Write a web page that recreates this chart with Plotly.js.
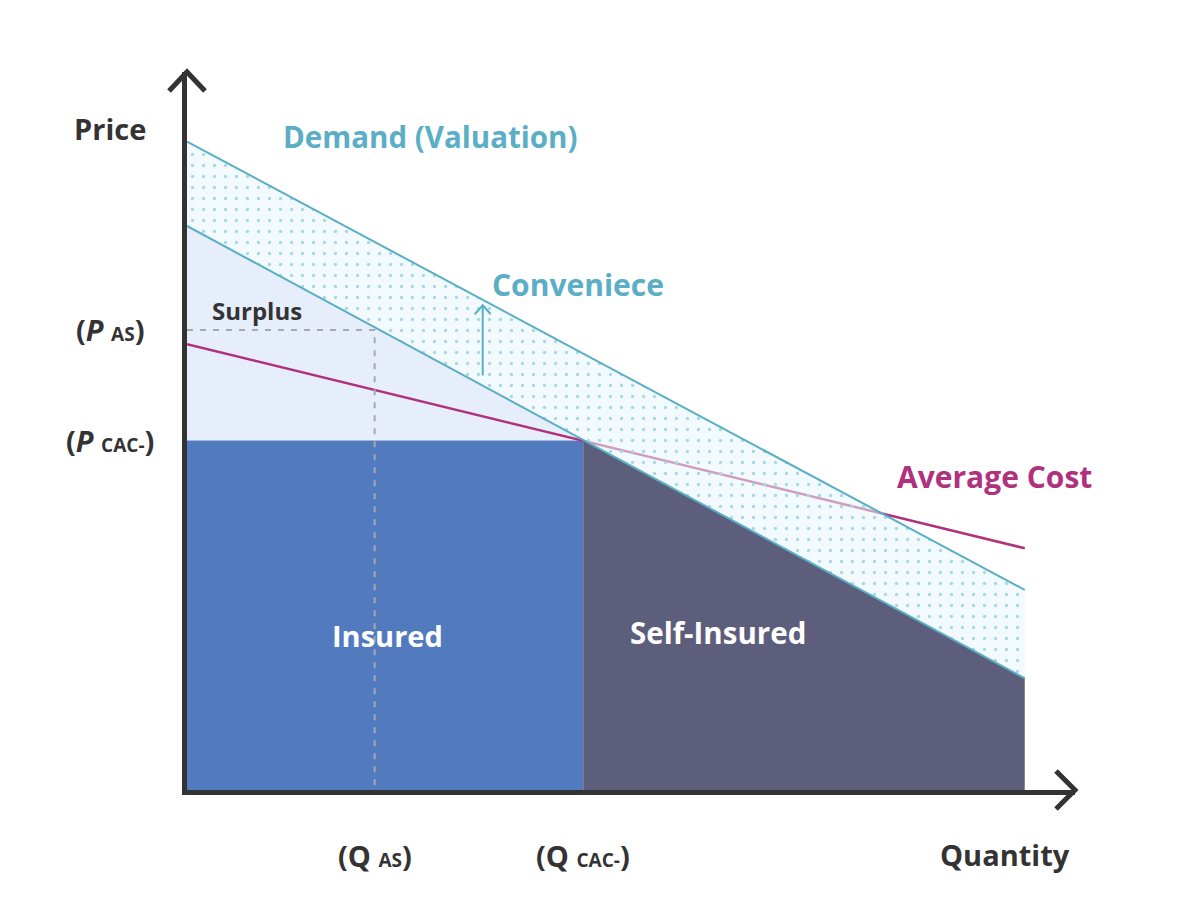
<!DOCTYPE html>
<html>
<head>
<meta charset="utf-8">
<script src="https://cdn.plot.ly/plotly-3.0.1.min.js"></script>
<style>html,body{margin:0;padding:0;background:#fff;}#chart{width:1200px;height:920px;}</style>
</head>
<body>
<div id="chart"></div>
<script>
// ---- data (conceptual units) ----
const quantity = [0, 10];
const demandValuation = [9.98, 3.08];   // upper demand (valuation incl. convenience)
const demandBase = [8.68, 1.72];        // lower demand
const averageCost = [6.86, 3.72];
const qAS = 2.24, pAS = 7.08;
const qCAC = 4.73, pCAC = 5.38;
const convArrowQ = 3.53, convArrowFrom = 6.38, convArrowTo = 7.46;
const xTickVals = [qAS, qCAC];
const xTickLabels = ["(Q <span style='font-size:19px'>AS</span>)", "(Q <span style='font-size:19px'>CAC-</span>)"];
const yTickVals = [pAS, pCAC];
const yTickLabels = ["(<i>P</i> <span style='font-size:19px'>AS</span>)", "(<i>P</i> <span style='font-size:19px'>CAC-</span>)"];

const DARK = '#333333', TEAL = '#5aaec6', MAGENTA = '#b0317d';
const FONT = '"Open Sans", Lato, sans-serif';

const traces = [
  { // surplus
    x: [quantity[0], qCAC, quantity[0]], y: [demandBase[0], pCAC, pCAC],
    fill: 'toself', fillcolor: '#e6eefb', mode: 'none', hoverinfo: 'skip'
  },
  { // insured
    x: [quantity[0], qCAC, qCAC, quantity[0]], y: [0, 0, pCAC, pCAC],
    fill: 'toself', fillcolor: '#527bbf', mode: 'none', hoverinfo: 'skip'
  },
  { // self-insured
    x: [qCAC, quantity[1], quantity[1], qCAC], y: [pCAC, demandBase[1], 0, 0],
    fill: 'toself', fillcolor: '#5d5e7b', mode: 'none', hoverinfo: 'skip'
  },
  { // average cost
    x: quantity, y: averageCost, mode: 'lines', line: {color: MAGENTA, width: 2.5}, hoverinfo: 'skip'
  },
  { // band lower bound
    x: quantity, y: demandBase, mode: 'lines', line: {color: 'rgba(0,0,0,0)', width: 0}, hoverinfo: 'skip'
  },
  { // band (convenience)
    x: quantity, y: demandValuation, mode: 'lines', line: {color: 'rgba(0,0,0,0)', width: 0}, fill: 'tonexty',
    fillcolor: 'rgba(232,246,250,0.55)',
    fillpattern: {shape: '.', fgcolor: '#a6d9e3', bgcolor: 'rgba(232,246,250,0.55)', size: 11, solidity: 0.07},
    hoverinfo: 'skip'
  },
  { x: quantity, y: demandBase, mode: 'lines', line: {color: TEAL, width: 2}, hoverinfo: 'skip' },
  { x: quantity, y: demandValuation, mode: 'lines', line: {color: TEAL, width: 2}, hoverinfo: 'skip' },
  { // dashed guide lines
    x: [quantity[0], qAS, qAS], y: [pAS, pAS, 0], mode: 'lines',
    line: {color: '#a8a8ad', width: 2, dash: '6px,7px'}, hoverinfo: 'skip'
  },
  { // convenience arrow shaft
    x: [convArrowQ, convArrowQ], y: [convArrowFrom, convArrowTo], mode: 'lines',
    line: {color: TEAL, width: 2}, hoverinfo: 'skip'
  }
];

function ann(x, y, text, size, color, opts) {
  return Object.assign({x: x, y: y, xref: 'x', yref: 'y', text: text, showarrow: false,
    font: {family: FONT, size: size, color: color, weight: 700}}, opts || {});
}

const annotations = [
  ann(0, 10.18, 'Price', 29, DARK, {xshift: -77}),
  ann(2.9, 10.06, 'Demand (Valuation)', 29.5, TEAL),
  ann(3.62, 7.78, 'Conveniece', 30, TEAL, {xanchor: 'left'}),
  ann(0.27, 7.38, 'Surplus', 24, DARK, {xanchor: 'left'}),
  ann(9.64, 4.82, 'Average Cost', 30, MAGENTA),
  ann(2.39, 2.38, 'Insured', 29, '#ffffff'),
  ann(6.34, 2.43, 'Self-Insured', 29.5, '#ffffff'),
  ann(9.77, 0, 'Quantity', 29, DARK, {yshift: -64})
];
xTickVals.forEach((v, i) => annotations.push(ann(v, 0, xTickLabels[i], 29, DARK, {yshift: -65})));
yTickVals.forEach((v, i) => annotations.push(ann(0, v, yTickLabels[i], 29, DARK, {xshift: -77})));

const shapes = [
  { // y-axis arrow head
    type: 'path', xref: 'paper', yref: 'paper', xsizemode: 'pixel', ysizemode: 'pixel',
    xanchor: 0, yanchor: 1, path: 'M -18 -19 L 0 0 L 18 -19',
    line: {color: DARK, width: 5}
  },
  { // x-axis arrow head
    type: 'path', xref: 'paper', yref: 'paper', xsizemode: 'pixel', ysizemode: 'pixel',
    xanchor: 1, yanchor: 0, path: 'M -19 19 L 0 0 L -19 -19',
    line: {color: DARK, width: 5}
  },
  { // convenience arrow head
    type: 'path', xref: 'x', yref: 'y', xsizemode: 'pixel', ysizemode: 'pixel',
    xanchor: convArrowQ, yanchor: convArrowTo, path: 'M -8 -9 L 0 0 L 8 -9',
    line: {color: TEAL, width: 2}
  }
];

const layout = {
  width: 1200, height: 920,
  margin: {l: 187, r: 125, t: 72, b: 130},
  paper_bgcolor: '#ffffff', plot_bgcolor: '#ffffff',
  showlegend: false,
  xaxis: {range: [0, 10.6], showgrid: false, zeroline: false, showticklabels: false, ticks: '',
          showline: true, linecolor: DARK, linewidth: 5, fixedrange: true},
  yaxis: {range: [0, 11.05], showgrid: false, zeroline: false, showticklabels: false, ticks: '',
          showline: true, linecolor: DARK, linewidth: 5, fixedrange: true},
  annotations: annotations,
  shapes: shapes,
  hovermode: false
};

Plotly.newPlot('chart', traces, layout, {displayModeBar: false, staticPlot: true});
</script>
</body>
</html>
